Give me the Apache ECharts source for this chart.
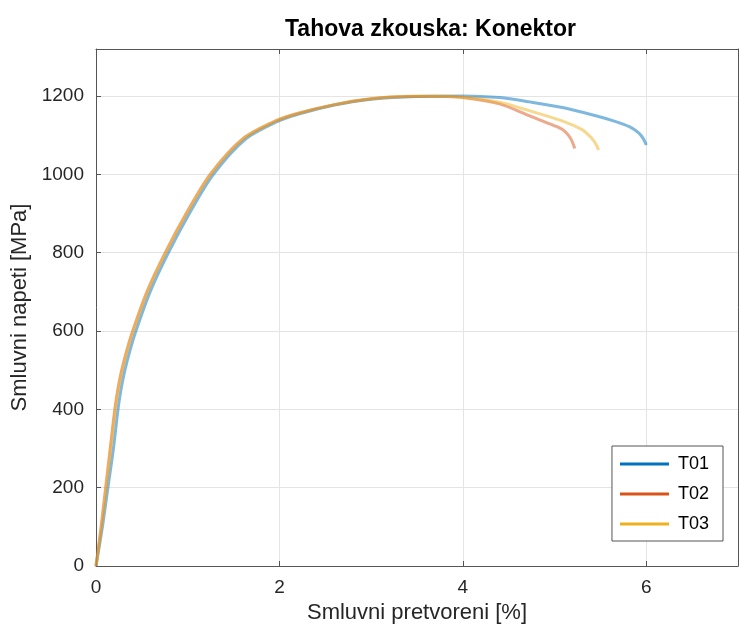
<!DOCTYPE html>
<html>
<head>
<meta charset="utf-8">
<script src="https://cdn.jsdelivr.net/npm/echarts@6/dist/echarts.min.js"></script>
<style>html,body{margin:0;padding:0;background:#fff;}#c{width:739px;height:626px;}</style>
</head>
<body>
<div id="c"></div>
<script>
const seriesNames = ['T01', 'T02', 'T03'];
const strainT01 = [0,0.07,0.13,0.19,0.24,0.272,0.315,0.37,0.435,0.59,0.79,1.03,1.28,1.63,1.96,2.21,2.6,3.0,3.5,4.0,4.4,4.73,5.1,5.46,5.65,5.82,5.92,5.97,6.0];
const stressT01 = [0,100,200,300,400,450,500,550,600,700,800,905,1000,1090,1133,1154,1177,1192,1199,1200,1196,1185,1170,1149,1136,1121,1105,1090,1075];
const strainT02 = [0,0.055,0.105,0.155,0.205,0.237,0.28,0.335,0.4,0.555,0.755,0.995,1.245,1.595,1.925,2.175,2.6,3.0,3.4,3.8,4.0,4.4,4.73,5.0,5.09,5.15,5.19,5.22];
const stressT02 = [0,100,200,300,400,450,500,550,600,700,800,905,1000,1090,1133,1154,1178,1193,1199,1199,1196,1180,1149,1124,1114,1100,1085,1066];
const strainT03 = [0,0.06,0.11,0.16,0.21,0.242,0.285,0.34,0.405,0.56,0.76,1.0,1.25,1.6,1.93,2.18,2.6,3.0,3.5,4.0,4.4,4.73,5.09,5.3,5.38,5.43,5.46,5.48];
const stressT03 = [0,100,200,300,400,450,500,550,600,700,800,905,1000,1090,1133,1154,1178,1193,1200,1197,1184,1162,1136,1114,1098,1085,1073,1062];
const colors = ['#0072BD', '#D95319', '#EDB120'];

function pairs(xs, ys) { return xs.map((x, i) => [x, ys[i]]); }
const datasets = [pairs(strainT01, stressT01), pairs(strainT02, stressT02), pairs(strainT03, stressT03)];

const font = '"Liberation Sans", Arial, Helvetica, sans-serif';
const axisCol = '#555';
const labelFmt = v => String(v);
const chart = echarts.init(document.getElementById('c'));
chart.setOption({
  animation: false,
  backgroundColor: '#fff',
  title: {
    text: 'Tahova zkouska: Konektor',
    left: 280, top: 13,
    textStyle: { fontFamily: font, fontSize: 23, fontWeight: 'bold', color: '#000' }
  },
  grid: { left: 96, right: 1, top: 49, bottom: 60, containLabel: false, outerBoundsMode: 'none' },
  legend: {
    orient: 'vertical',
    right: 16, top: 446,
    icon: 'rect', itemWidth: 49, itemHeight: 3, itemGap: 12,
    padding: [9, 14, 8, 8],
    borderColor: '#555', borderWidth: 1, backgroundColor: '#fff',
    textStyle: { fontFamily: font, fontSize: 18, color: '#000', padding: [0, 0, 0, 4] },
    data: seriesNames.map((n, i) => ({ name: n, itemStyle: { color: colors[i], opacity: 1 } }))
  },
  xAxis: [{
    type: 'value', min: 0, max: 7, interval: 2,
    name: 'Smluvni pretvoreni [%]', nameLocation: 'middle', nameGap: 35,
    nameTextStyle: { fontFamily: font, fontSize: 22, color: '#262626' },
    axisLine: { show: true, onZero: false, lineStyle: { color: axisCol, width: 1 } },
    axisTick: { show: true, inside: true, length: 5, lineStyle: { color: axisCol } },
    axisLabel: { fontFamily: font, fontSize: 19, color: '#262626', margin: 12, showMaxLabel: false, formatter: labelFmt },
    splitLine: { show: true, lineStyle: { color: '#e4e4e4', width: 1 } }
  }, {
    type: 'value', min: 0, max: 7, interval: 2, position: 'top',
    axisLine: { show: true, onZero: false, lineStyle: { color: axisCol, width: 1 } },
    axisTick: { show: true, inside: true, length: 5, lineStyle: { color: axisCol } },
    axisLabel: { show: false }, splitLine: { show: false }
  }],
  yAxis: [{
    type: 'value', min: 0, max: 1320, interval: 200,
    name: 'Smluvni napeti [MPa]', nameLocation: 'middle', nameGap: 64,
    nameTextStyle: { fontFamily: font, fontSize: 22, color: '#262626' },
    axisLine: { show: true, onZero: false, lineStyle: { color: axisCol, width: 1 } },
    axisTick: { show: true, inside: true, length: 5, lineStyle: { color: axisCol } },
    axisLabel: { fontFamily: font, fontSize: 19, color: '#262626', margin: 12, showMaxLabel: false, formatter: labelFmt },
    splitLine: { show: true, lineStyle: { color: '#e4e4e4', width: 1 } }
  }, {
    type: 'value', min: 0, max: 1320, interval: 200, position: 'right',
    axisLine: { show: true, onZero: false, lineStyle: { color: axisCol, width: 1 } },
    axisTick: { show: false }, axisLabel: { show: false }, splitLine: { show: false }
  }],
  series: seriesNames.map((n, i) => ({
    name: n, type: 'line', data: datasets[i],
    xAxisIndex: 0, yAxisIndex: 0,
    showSymbol: false, smooth: 0.3,
    color: colors[i],
    lineStyle: { color: colors[i], width: 3, opacity: 0.5 },
    z: 2 + i
  }))
});
</script>
</body>
</html>
